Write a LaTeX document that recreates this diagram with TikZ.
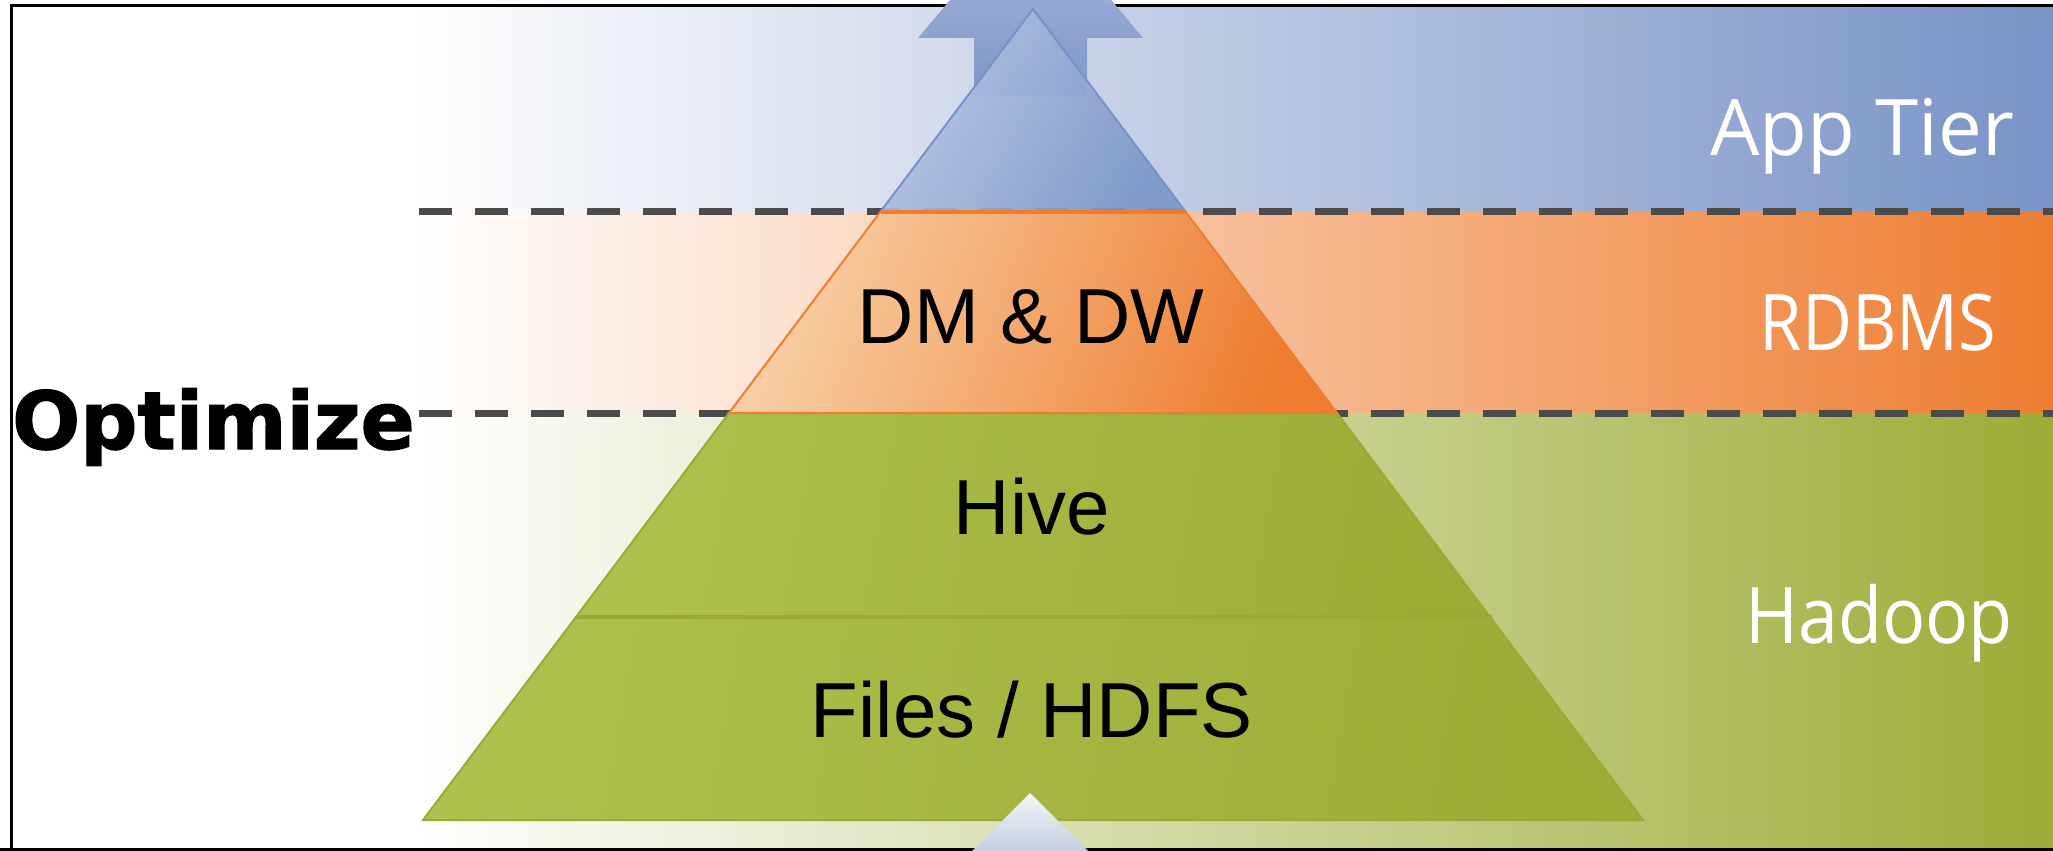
\documentclass[tikz,border=0pt]{standalone}
\usepackage{fontspec}
\setmainfont{Liberation Sans}
\newfontfamily\tierfont{Open Sans}
\newfontface\optfont[FakeBold=1.6]{DejaVu Sans Bold}
\definecolor{bandBlue}{HTML}{7893C6}
\definecolor{bandOrange}{HTML}{EE7D31}
\definecolor{bandGreen}{HTML}{9DAC37}
\definecolor{pyrBlueL}{HTML}{B6C5E3}
\definecolor{pyrBlueR}{HTML}{7C97C9}
\definecolor{pyrBlueLine}{HTML}{7792C7}
\definecolor{pyrOrangeL}{HTML}{F8D0A6}
\definecolor{pyrOrangeR}{HTML}{EE7D31}
\definecolor{pyrGreenL}{HTML}{AEC04E}
\definecolor{pyrGreenR}{HTML}{9FAB37}
\definecolor{pyrGreenLine}{HTML}{9BAA34}
\definecolor{dashGray}{HTML}{4B4B4B}
\definecolor{arrowTop}{HTML}{AABBDD}
\definecolor{arrowBot}{HTML}{7E98C9}
\definecolor{lowArrowTop}{HTML}{F3F5F8}
\definecolor{lowArrowBot}{HTML}{C2CEE0}
\tikzset{
  tierdash/.style={draw=dashGray, line width=7pt, dash pattern=on 33pt off 23pt},
  pyrtext/.style={anchor=base, text=black, font=\fontsize{78}{82}\selectfont},
  tiertext/.style={anchor=base, text=white, font=\tierfont\fontsize{78}{82}\selectfont},
  frameline/.style={draw=black, line width=3pt}
}
\begin{document}
\begin{tikzpicture}[x=1pt,y=-1pt]
\useasboundingbox (0,0) rectangle (2053,851);
\clip (0,0) rectangle (2053,851);
\fill[white] (0,0) rectangle (2053,851);
% bands
\shade[left color=white, right color=bandBlue] (414,7) rectangle (2053,211);
\shade[left color=white, right color=bandOrange] (414,211) rectangle (2053,413);
\shade[left color=white, right color=bandGreen] (414,413) rectangle (2053,851);
% dashed tier lines
\coordinate (d1a) at (419,211); \coordinate (d1b) at (2060,211);
\coordinate (d2a) at (419,413); \coordinate (d2b) at (2060,413);
\draw[tierdash] (d1a) -- (d1b);
\draw[tierdash] (d2a) -- (d2b);
% frame
\draw[frameline] (11.5,860) -- (11.5,5.5) -- (2060,5.5);
\draw[frameline] (0,849.5) -- (2060,849.5);
% top arrow
\shade[top color=arrowTop, bottom color=arrowBot]
  (974,95) -- (974,38) -- (918,38) -- (1031,-96) -- (1143,38) -- (1087,38) -- (1087,95) -- cycle;
% pyramid
\shade[left color=pyrGreenL, right color=pyrGreenR, shading angle=80]
  (576,617) -- (1490,617) -- (1643,820) -- (423,820) -- cycle;
\draw[pyrGreenLine, line width=2pt] (576,617) -- (1490,617) -- (1643,820) -- (423,820) -- cycle;
\shade[left color=pyrGreenL, right color=pyrGreenR, shading angle=80]
  (729,413) -- (1337,413) -- (1490,617) -- (576,617) -- cycle;
\draw[pyrGreenLine, line width=2pt] (729,413) -- (1337,413) -- (1490,617) -- (576,617) -- cycle;
\draw[pyrGreenLine, line width=4pt] (577,617) -- (1492,617);
\shade[left color=pyrOrangeL, right color=pyrOrangeR, shading angle=70]
  (881,211) -- (1185,211) -- (1337,413) -- (729,413) -- cycle;
\draw[bandOrange, line width=2pt] (881,211) -- (1185,211) -- (1337,413) -- (729,413) -- cycle;
\shade[left color=pyrBlueL, right color=pyrBlueR, shading angle=60, opacity=0.92]
  (1033,9) -- (1185,211) -- (881,211) -- cycle;
\draw[pyrBlueLine, line width=2pt] (1033,9) -- (1185,211) -- (881,211) -- cycle;
\draw[bandOrange, line width=4pt] (881,212) -- (1185,212);
% bottom arrow
\shade[top color=lowArrowTop, bottom color=lowArrowBot]
  (1030,793) -- (1090,853) -- (970,853) -- cycle;
% texts
\node[pyrtext] (dm) at (1031,343) {DM \& DW};
\node[pyrtext] (hive) at (1032,534) {Hive};
\node[pyrtext] (files) at (1032,737) {Files / HDFS};
\node[tiertext] (app) at (1862,155) {App Tier};
\node[tiertext] (rdbms) at (1878,350) {\scalebox{0.88}[1]{RDBMS}};
\node[tiertext] (hadoop) at (1879,643) {\scalebox{0.92}[1]{Hadoop}};
\node[anchor=base west, inner sep=0pt, text=black, font=\optfont\fontsize{80}{84}\selectfont] (opt) at (12,449) {Optimize};
\end{tikzpicture}
\end{document}
